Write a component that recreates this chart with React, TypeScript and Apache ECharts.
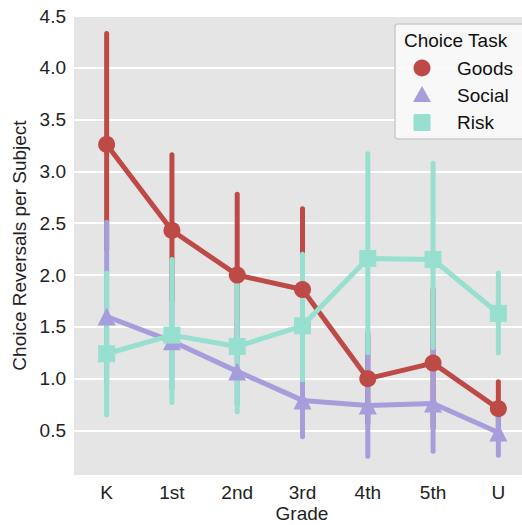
import React, { useEffect, useRef } from "react";
import * as echarts from "echarts";

const grades = ["K", "1st", "2nd", "3rd", "4th", "5th", "U"];
const yTicks = [0.5, 1.0, 1.5, 2.0, 2.5, 3.0, 3.5, 4.0, 4.5];

const goodsMean = [3.26, 2.43, 2.0, 1.86, 1.0, 1.15, 0.71];
const goodsLow = [2.25, 1.75, 1.3, 1.2, 0.57, 0.53, 0.48];
const goodsHigh = [4.33, 3.16, 2.78, 2.64, 1.42, 1.86, 0.97];

const socialMean = [1.6, 1.36, 1.07, 0.79, 0.74, 0.76, 0.48];
const socialLow = [0.95, 0.9, 0.75, 0.44, 0.25, 0.3, 0.26];
const socialHigh = [2.51, 1.9, 1.55, 1.15, 1.45, 1.45, 0.74];

const riskMean = [1.24, 1.42, 1.31, 1.51, 2.16, 2.15, 1.63];
const riskLow = [0.65, 0.77, 0.68, 0.99, 1.25, 1.3, 1.25];
const riskHigh = [2.02, 2.15, 1.97, 2.2, 3.17, 3.08, 2.02];

const COLORS = { goods: "#bd4a46", social: "#a59edb", risk: "#97dfcf" };
const FONT = "Liberation Sans, Arial, sans-serif";
const FS = 19;

function errSeries(name: string, low: number[], high: number[], color: string) {
  return {
    name: name + " CI",
    type: "custom",
    data: low.map((l, i) => [i, l, high[i]]),
    renderItem: (params: any, api: any) => {
      const p1 = api.coord([api.value(0), api.value(1)]);
      const p2 = api.coord([api.value(0), api.value(2)]);
      return {
        type: "line",
        shape: { x1: p1[0], y1: p1[1], x2: p2[0], y2: p2[1] },
        style: { stroke: color, lineWidth: 5, lineCap: "round" },
      };
    },
    silent: true,
  };
}

function lineSeries(name: string, data: number[], color: string, symbol: string, size: number) {
  return {
    name,
    type: "line",
    data,
    symbol,
    symbolSize: size,
    showAllSymbol: true,
    itemStyle: { color },
    lineStyle: { color, width: 5 },
    silent: true,
  };
}

export default function App() {
  const ref = useRef<HTMLDivElement>(null);
  useEffect(() => {
    if (!ref.current) return;
    const chart = echarts.init(ref.current, null, { renderer: "svg" });
    chart.setOption({
      animation: false,
      textStyle: { fontFamily: FONT },
      grid: {
        left: 74,
        width: 457,
        top: 16,
        bottom: 50,
        show: true,
        backgroundColor: "#e5e5e5",
        borderWidth: 0,
        containLabel: false,
        outerBoundsMode: "none",
      },
      xAxis: {
        type: "category",
        data: grades,
        boundaryGap: true,
        axisLine: { show: false },
        axisTick: { show: false },
        axisLabel: { color: "#222", fontSize: FS, margin: 8, fontFamily: FONT },
      },
      yAxis: {
        type: "value",
        min: 0.07,
        max: 4.5,
        axisLine: { show: false },
        axisTick: { show: false, customValues: yTicks },
        axisLabel: {
          color: "#222",
          fontSize: FS,
          margin: 8,
          fontFamily: FONT,
          customValues: yTicks,
          formatter: (v: number) => v.toFixed(1),
        },
        splitLine: { show: true, lineStyle: { color: "#ffffff", width: 2 } },
        name: "Choice Reversals per Subject",
        nameLocation: "middle",
        nameGap: 43,
        nameTextStyle: { color: "#222", fontSize: FS, fontFamily: FONT },
      },
      series: [
        errSeries("Goods", goodsLow, goodsHigh, COLORS.goods),
        lineSeries("Goods", goodsMean, COLORS.goods, "circle", 17),
        errSeries("Social", socialLow, socialHigh, COLORS.social),
        lineSeries("Social", socialMean, COLORS.social, "triangle", 18),
        errSeries("Risk", riskLow, riskHigh, COLORS.risk),
        lineSeries("Risk", riskMean, COLORS.risk, "rect", 17),
      ],
      graphic: [
        {
          type: "text",
          x: 302,
          y: 513,
          style: {
            text: "Grade",
            fill: "#222",
            font: `${FS}px ${FONT}`,
            align: "center",
            verticalAlign: "middle",
          },
        },
        {
          type: "rect",
          z: 100,
          shape: { x: 395, y: 24, width: 140, height: 115, r: 3 },
          style: { fill: "rgba(250,250,250,0.92)", stroke: "#cccccc", lineWidth: 1.5 },
        },
        {
          type: "text",
          z: 101,
          x: 404,
          y: 40,
          style: { text: "Choice Task", fill: "#111", font: `${FS}px ${FONT}`, verticalAlign: "middle" },
        },
        {
          type: "circle",
          z: 101,
          shape: { cx: 422, cy: 68, r: 8.5 },
          style: { fill: COLORS.goods },
        },
        {
          type: "polygon",
          z: 101,
          shape: { points: [[422, 86], [431, 102], [413, 102]] },
          style: { fill: COLORS.social },
        },
        {
          type: "rect",
          z: 101,
          shape: { x: 413.5, y: 114, width: 17, height: 17, r: 1.5 },
          style: { fill: COLORS.risk },
        },
        {
          type: "text",
          z: 101,
          x: 457,
          y: 68,
          style: { text: "Goods", fill: "#111", font: `${FS}px ${FONT}`, verticalAlign: "middle" },
        },
        {
          type: "text",
          z: 101,
          x: 457,
          y: 95,
          style: { text: "Social", fill: "#111", font: `${FS}px ${FONT}`, verticalAlign: "middle" },
        },
        {
          type: "text",
          z: 101,
          x: 457,
          y: 122,
          style: { text: "Risk", fill: "#111", font: `${FS}px ${FONT}`, verticalAlign: "middle" },
        },
      ],
    });
    return () => chart.dispose();
  }, []);
  return <div ref={ref} style={{ width: 522, height: 525, position: "absolute", left: 0, top: 0 }} />;
}
